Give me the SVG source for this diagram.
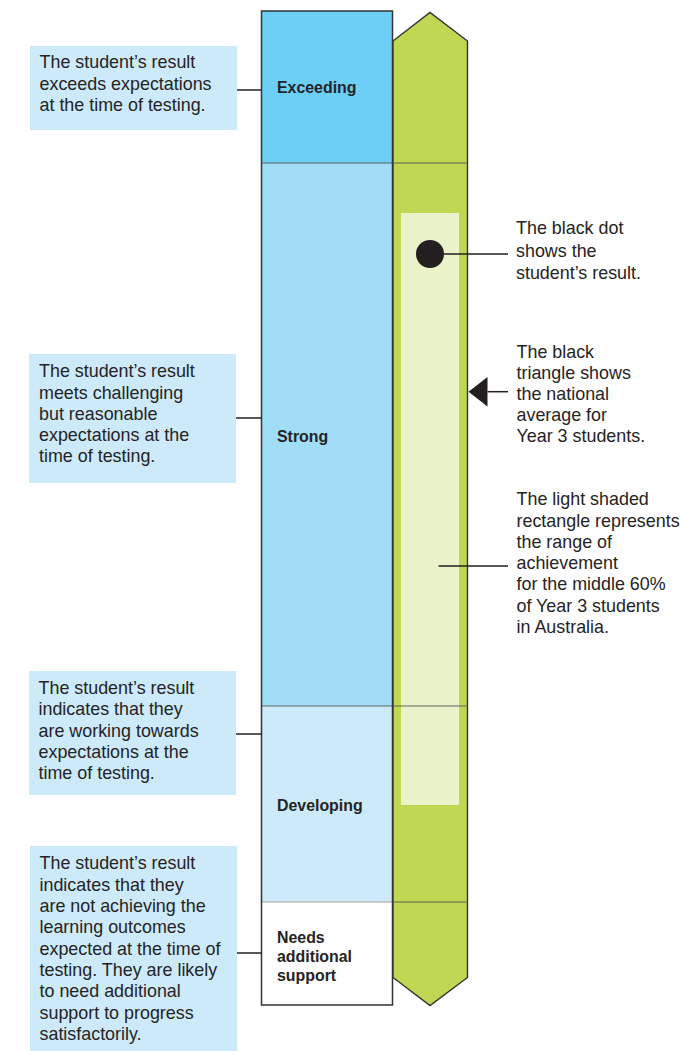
<svg xmlns="http://www.w3.org/2000/svg" width="681" height="1051" viewBox="0 0 681 1051">
<style>
.t{font-family:"Liberation Sans",Arial,sans-serif;font-size:17.9px;fill:#262324}
.b{font-family:"Liberation Sans",Arial,sans-serif;font-size:15.9px;font-weight:bold;fill:#262324}
.box{fill:#cceafa}
.con{stroke:#231f20;stroke-width:1.5;fill:none}
.div{stroke:#555;stroke-opacity:0.6;stroke-width:1.5}
</style>
<rect width="681" height="1051" fill="#fff"/>
<g id="bar">
<rect x="261.5" y="11" width="131" height="152" fill="#6dcff6"/>
<rect x="261.5" y="163" width="131" height="543" fill="#a2ddf8"/>
<rect x="261.5" y="706" width="131" height="196" fill="#cceafa"/>
<rect x="261.5" y="902" width="131" height="103" fill="#ffffff"/>
<line class="div" x1="261.5" y1="163" x2="392.5" y2="163"/>
<line class="div" x1="261.5" y1="706" x2="392.5" y2="706"/>
<line x1="261.5" y1="902" x2="392.5" y2="902" stroke="#bbb" stroke-width="1.5"/>
<rect x="261.5" y="11" width="131" height="994" fill="none" stroke="#333" stroke-width="1.5"/>
</g>
<g id="green">
<polygon points="393,41 430,12.5 467.5,41 467.5,977.5 430,1005.5 393,977.5" fill="#bfd752" stroke="#333" stroke-width="1.4"/>
<rect x="401" y="213" width="58" height="592" fill="#e9f2c9"/>
<line class="div" x1="393" y1="163" x2="467.5" y2="163"/>
<line class="div" x1="393" y1="706" x2="467.5" y2="706"/>
<line class="div" x1="393" y1="902" x2="467.5" y2="902"/>
</g>
<g id="labels">
<text class="b" x="277" y="93">Exceeding</text>
<text class="b" x="277" y="442">Strong</text>
<text class="b" x="277" y="811">Developing</text>
<text class="b" x="277" y="943">Needs</text>
<text class="b" x="277" y="962">additional</text>
<text class="b" x="277" y="980.5">support</text>
</g>
<g id="box-exceeding">
<rect class="box" x="30" y="46" width="207" height="84"/>
<text class="t" x="39.5" y="68">The student’s result</text>
<text class="t" x="39.5" y="89.5">exceeds expectations</text>
<text class="t" x="39.5" y="111">at the time of testing.</text>
</g>
<g id="box-strong">
<rect class="box" x="29" y="354" width="207" height="129"/>
<text class="t" x="39" y="377">The student’s result</text>
<text class="t" x="39" y="398.5">meets challenging</text>
<text class="t" x="39" y="420">but reasonable</text>
<text class="t" x="39" y="441">expectations at the</text>
<text class="t" x="39" y="462">time of testing.</text>
</g>
<g id="box-developing">
<rect class="box" x="29" y="671" width="207" height="124"/>
<text class="t" x="38.5" y="694">The student’s result</text>
<text class="t" x="38.5" y="715">indicates that they</text>
<text class="t" x="38.5" y="736.5">are working towards</text>
<text class="t" x="38.5" y="757.5">expectations at the</text>
<text class="t" x="38.5" y="778.5">time of testing.</text>
</g>
<g id="box-needs">
<rect class="box" x="30" y="846" width="207" height="205"/>
<text class="t" x="39.5" y="869">The student’s result</text>
<text class="t" x="39.5" y="890.5">indicates that they</text>
<text class="t" x="39.5" y="912">are not achieving the</text>
<text class="t" x="39.5" y="933.3">learning outcomes</text>
<text class="t" x="39.5" y="954.5">expected at the time of</text>
<text class="t" x="39.5" y="975.7">testing. They are likely</text>
<text class="t" x="39.5" y="997.3">to need additional</text>
<text class="t" x="39.5" y="1018.7">support to progress</text>
<text class="t" x="39.5" y="1040">satisfactorily.</text>
</g>
<g id="dot">
<circle cx="430" cy="254" r="14" fill="#231f20"/>
<text class="t" x="516" y="234">The black dot</text>
<text class="t" x="516" y="257">shows the</text>
<text class="t" x="516" y="279">student’s result.</text>
</g>
<g id="triangle">
<polygon points="468.5,391.7 487.5,377 487.5,406.5" fill="#231f20"/>
<text class="t" x="516.5" y="358">The black</text>
<text class="t" x="516.5" y="379">triangle shows</text>
<text class="t" x="516.5" y="400">the national</text>
<text class="t" x="516.5" y="421">average for</text>
<text class="t" x="516.5" y="442">Year 3 students.</text>
</g>
<g id="range">
<text class="t" x="516.5" y="505">The light shaded</text>
<text class="t" x="516.5" y="526.5">rectangle represents</text>
<text class="t" x="516.5" y="548">the range of</text>
<text class="t" x="516.5" y="569">achievement</text>
<text class="t" x="516.5" y="590">for the middle 60%</text>
<text class="t" x="516.5" y="611.5">of Year 3 students</text>
<text class="t" x="516.5" y="632.5">in Australia.</text>
</g>
<g id="connectors">
<line class="con" x1="237" y1="90" x2="261.5" y2="90"/>
<line class="con" x1="236" y1="418" x2="261.5" y2="418"/>
<line class="con" x1="236" y1="734" x2="261.5" y2="734"/>
<line class="con" x1="237" y1="953" x2="261.5" y2="953"/>
<line class="con" x1="444" y1="254" x2="508" y2="254" stroke-width="1.2"/>
<line class="con" x1="487.5" y1="391.7" x2="508" y2="391.7" stroke-width="1.2"/>
<line class="con" x1="438.5" y1="566" x2="508" y2="566" stroke-width="1.2"/>
</g>
</svg>
